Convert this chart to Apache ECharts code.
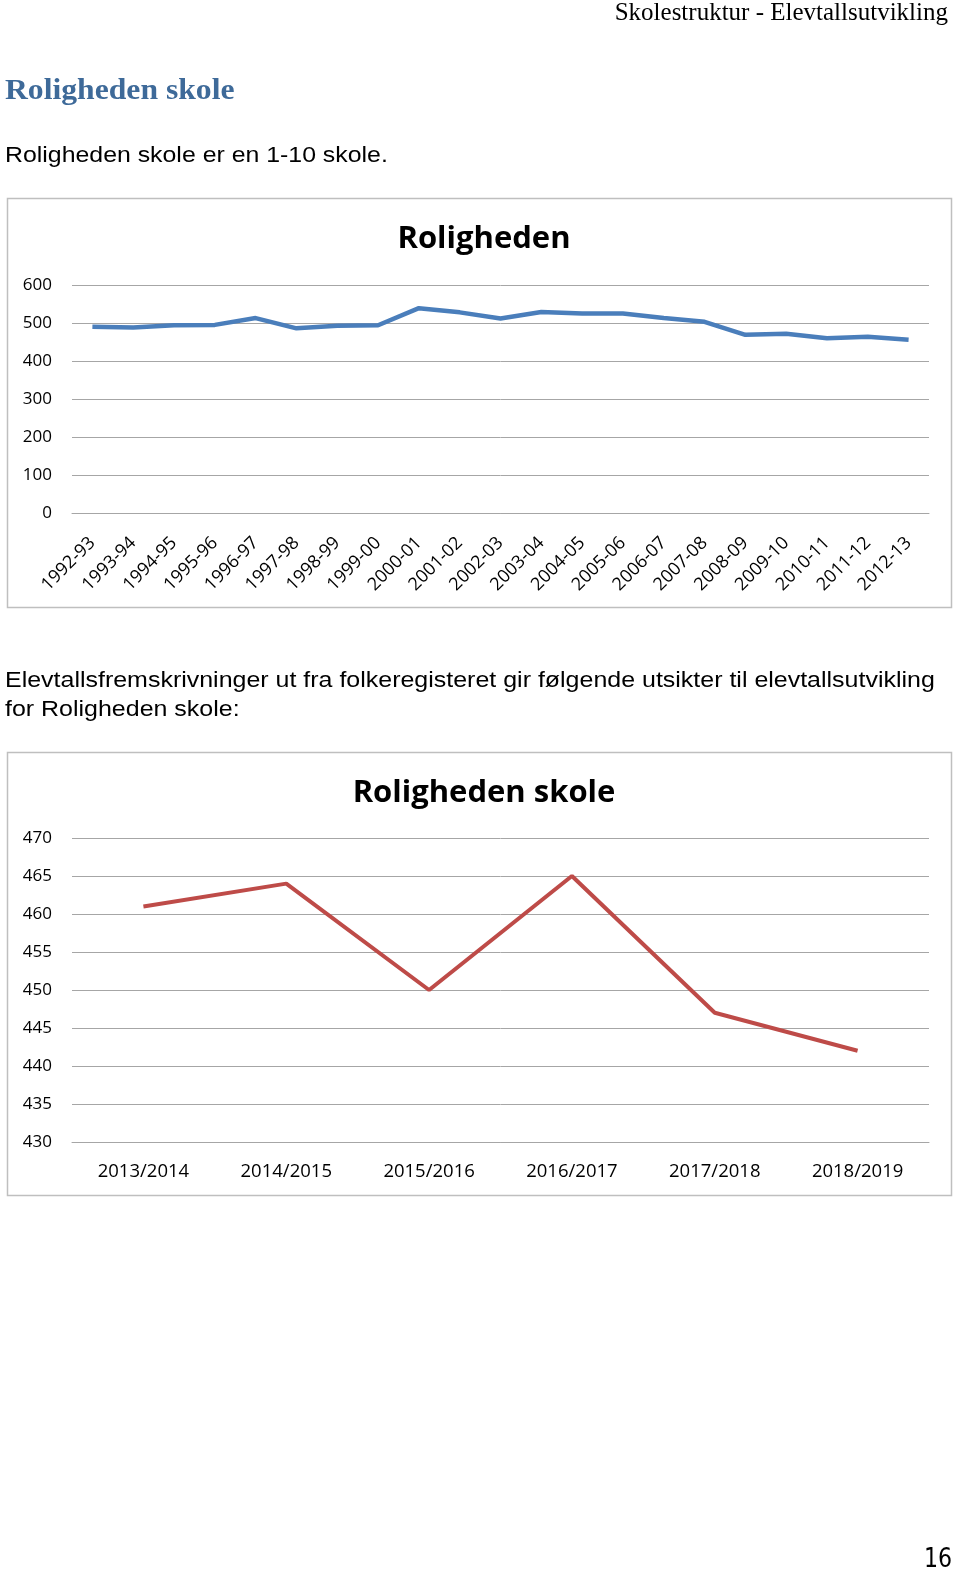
<!DOCTYPE html>
<html>
<head>
<meta charset="utf-8">
<script src="https://cdn.jsdelivr.net/npm/echarts@6/dist/echarts.min.js"></script>
<style>
html,body{margin:0;padding:0;background:#fff;}
#c{width:960px;height:1574px;}
</style>
</head>
<body>
<div id="c"></div>
<script>
// Chart 1: historical student numbers
const histCategories = ['1992-93','1993-94','1994-95','1995-96','1996-97','1997-98','1998-99','1999-00','2000-01','2001-02','2002-03','2003-04','2004-05','2005-06','2006-07','2007-08','2008-09','2009-10','2010-11','2011-12','2012-13'];
const histValues = [490, 488, 494, 495, 513, 486, 493, 494, 539, 528, 512, 529, 525, 525, 513, 503, 469, 472, 460, 464, 456];
const histTicks = [0, 100, 200, 300, 400, 500, 600];

// Chart 2: projections
const projCategories = ['2013/2014','2014/2015','2015/2016','2016/2017','2017/2018','2018/2019'];
const projValues = [461, 464, 450, 465, 447, 442];
const projTicks = [430, 435, 440, 445, 450, 455, 460, 465, 470];

const chart = echarts.init(document.getElementById('c'), null, {renderer: 'canvas'});
const gridColor = '#a6a6a6';
const labelFont = '"Open Sans", sans-serif';
const bodyFont = '22px "Liberation Sans", Arial, sans-serif';

const option = {
  backgroundColor: '#ffffff',
  animation: false,
  title: [
    {text: 'Roligheden', left: 479, top: 219, textAlign: 'center',
     textStyle: {fontFamily: labelFont, fontWeight: 'bold', fontSize: 31, color: '#000'}},
    {text: 'Roligheden skole', left: 479, top: 773, textAlign: 'center',
     textStyle: {fontFamily: labelFont, fontWeight: 'bold', fontSize: 31, color: '#000'}}
  ],
  graphic: [
    {type: 'text', x: 948, y: 1, style: {text: 'Skolestruktur - Elevtallsutvikling', font: '25px "Liberation Serif", serif', fill: '#000', textAlign: 'right', textVerticalAlign: 'top'}},
    {type: 'text', x: 5, y: 76, style: {text: 'Roligheden skole', font: 'bold 30px "Liberation Serif", serif', fill: '#3e6a99', textVerticalAlign: 'top'}, scaleX: 1.055},
    {type: 'text', x: 5, y: 145, scaleX: 1.13, style: {text: 'Roligheden skole er en 1-10 skole.', font: bodyFont, fill: '#000', textVerticalAlign: 'top'}},
    {type: 'text', x: 5, y: 670, scaleX: 1.135, style: {text: 'Elevtallsfremskrivninger ut fra folkeregisteret gir følgende utsikter til elevtallsutvikling', font: bodyFont, fill: '#000', textVerticalAlign: 'top'}},
    {type: 'text', x: 5, y: 699, scaleX: 1.135, style: {text: 'for Roligheden skole:', font: bodyFont, fill: '#000', textVerticalAlign: 'top'}},
    {type: 'rect', shape: {x: 7.5, y: 198.5, width: 944, height: 409}, style: {fill: 'none', stroke: '#bfbfbf', lineWidth: 1.5}},
    {type: 'rect', shape: {x: 7.5, y: 752.5, width: 944, height: 443}, style: {fill: 'none', stroke: '#bfbfbf', lineWidth: 1.5}},
    {type: 'text', x: 924, y: 1547, scaleX: 0.85, style: {text: '16', font: '26px "DejaVu Sans", sans-serif', fill: '#000', textVerticalAlign: 'top'}}
  ],
  grid: [
    {left: 72, right: 31, top: 285, height: 228},
    {left: 72, right: 31, top: 838, height: 304}
  ],
  xAxis: [
    {type: 'category', gridIndex: 0, data: histCategories, boundaryGap: true,
     axisLine: {show: true, lineStyle: {color: gridColor, width: 1}}, axisTick: {show: false},
     axisLabel: {rotate: 45, margin: 27, fontFamily: labelFont, fontSize: 18, color: '#000', interval: 0}},
    {type: 'category', gridIndex: 1, data: projCategories, boundaryGap: true,
     axisLine: {show: true, lineStyle: {color: gridColor, width: 1}}, axisTick: {show: false},
     axisLabel: {margin: 20, fontFamily: labelFont, fontSize: 18.5, color: '#000', interval: 0}}
  ],
  yAxis: [
    {type: 'value', gridIndex: 0, min: histTicks[0], max: histTicks[histTicks.length-1], interval: 100,
     axisLine: {show: false}, axisTick: {show: false},
     splitLine: {lineStyle: {color: gridColor, width: 1}},
     axisLabel: {margin: 20, fontFamily: labelFont, fontSize: 17, color: '#000'}},
    {type: 'value', gridIndex: 1, min: projTicks[0], max: projTicks[projTicks.length-1], interval: 5,
     axisLine: {show: false}, axisTick: {show: false},
     splitLine: {lineStyle: {color: gridColor, width: 1}},
     axisLabel: {margin: 20, fontFamily: labelFont, fontSize: 17, color: '#000'}}
  ],
  series: [
    {type: 'line', xAxisIndex: 0, yAxisIndex: 0, data: histValues, symbol: 'none',
     lineStyle: {color: '#4a7ebb', width: 4.5}},
    {type: 'line', xAxisIndex: 1, yAxisIndex: 1, data: projValues, symbol: 'none',
     lineStyle: {color: '#be4b48', width: 4}}
  ]
};
chart.setOption(option);
</script>
</body>
</html>
